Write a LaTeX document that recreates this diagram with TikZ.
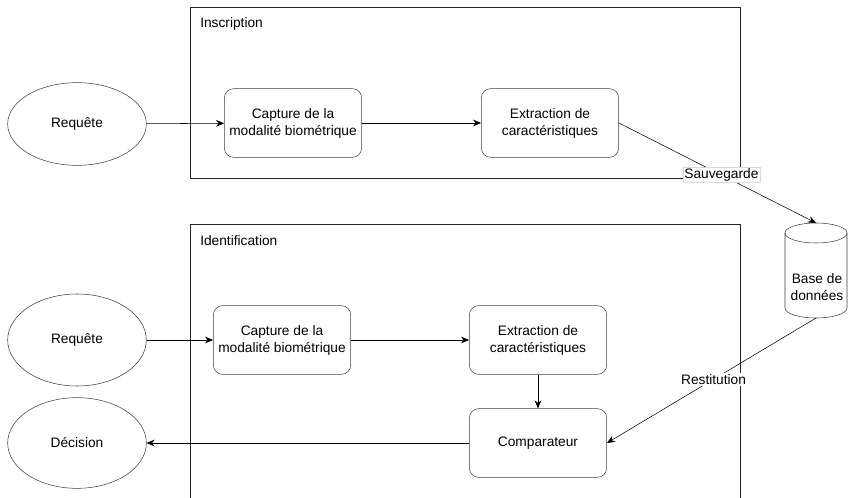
\documentclass[tikz,border=0pt]{standalone}
\usepackage{fontspec}
\setmainfont{Liberation Sans}
\usetikzlibrary{shapes.geometric,arrows.meta}
\newcommand\petit{\fontsize{10.3}{12.75}\selectfont}
\tikzset{
  etape/.style={draw=black!75,rounded corners=7pt,minimum width=103pt,minimum height=51.5pt,align=center,inner sep=0pt,font=\petit},
  acteur/.style={draw=black!75,ellipse,minimum width=104pt,inner sep=0pt,font=\petit},
  cadre/.style={draw=black!85},
  fleche/.style={draw=black,-{Stealth[length=6pt,width=5pt]}},
  etiquette/.style={fill=white,inner sep=1pt,font=\petit},
  titre/.style={anchor=base west,inner sep=0pt,font=\petit}
}
\begin{document}
\begin{tikzpicture}[x=0.75pt,y=-0.75pt]
\useasboundingbox (0,0) rectangle (848,498);
\fill[white] (0,0) rectangle (848,498);
\draw[cadre] (190,7) rectangle (740,178);
\node[titre] (tinsc) at (200,28) {Inscription};
\draw[cadre] (190,498) -- (190,224) -- (740,224) -- (740,498);
\node[titre] (tiden) at (200,246) {Identification};
\node[acteur,minimum height=62pt] (req1) at (77,124) {Requête};
\node[etape] (cap1) at (293,123) {Capture de la\\modalité biométrique};
\node[etape] (ext1) at (550,123) {Extraction de\\caractéristiques};
\node[acteur,minimum height=69pt] (req2) at (77,340) {Requête};
\node[etape] (cap2) at (282,340) {Capture de la\\modalité biométrique};
\node[etape] (ext2) at (538,340) {Extraction de\\caractéristiques};
\node[etape] (comp) at (538,443) {Comparateur};
\node[acteur,minimum height=68pt] (dec) at (77,443) {Décision};
\draw[draw=black!75,fill=white] (785,233) -- (785,308) arc[start angle=180,end angle=360,x radius=23.25pt,y radius=7.5pt] -- (847,233);
\draw[draw=black!75] (816,233) ellipse[x radius=23.25pt,y radius=7.5pt];
\coordinate (bddh) at (816,223);
\coordinate (bddb) at (816,318);
\node[font=\petit,align=center] (bdd) at (817,287) {Base de\\données};
\draw[fleche] (req1) -- (cap1);
\draw[fleche] (cap1) -- (ext1);
\draw[fleche] (req2) -- (cap2);
\draw[fleche] (cap2) -- (ext2);
\draw[fleche] (ext2) -- (comp);
\draw[fleche] (comp) -- (dec);
\draw[fleche] (ext1.east) -- node[etiquette,draw=black!15,pos=0.52] {Sauvegarde} (bddh);
\draw[fleche] (bddb) -- node[etiquette,pos=0.49] {Restitution} (comp.east);
\end{tikzpicture}
\end{document}
